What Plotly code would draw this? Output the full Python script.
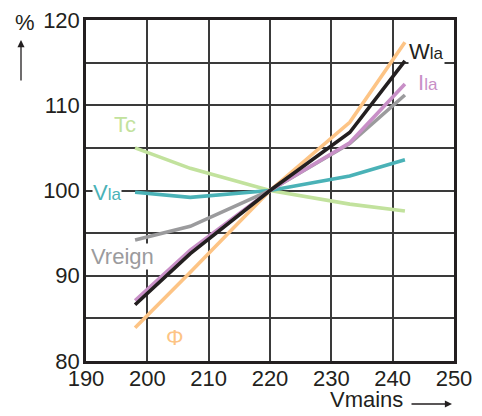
import plotly.graph_objects as go

vmains = [198, 207, 220, 233, 242]
tc = [105.0, 102.6, 100.0, 98.4, 97.6]
vla = [99.8, 99.2, 100.0, 101.7, 103.6]
vreign = [94.2, 95.8, 100.0, 105.5, 111.2]
phi = [83.9, 90.4, 100.0, 108.0, 117.4]
ila = [87.1, 93.0, 100.0, 105.6, 112.5]
wla = [86.6, 92.6, 100.0, 106.8, 115.2]

x_ticks = [190, 200, 210, 220, 230, 240, 250]
y_ticks = [80, 85, 90, 95, 100, 105, 110, 115, 120]
y_ticktext = ["80", "", "90", "", "100", "", "110", "", "120"]

FONT = "Liberation Sans, Arial, sans-serif"
series = [
    (tc, "#C2E29D"),
    (vla, "#4AB2B7"),
    (vreign, "#9B9B9D"),
    (phi, "#FDC485"),
    (ila, "#C88FC7"),
    (wla, "#231F20"),
]

fig = go.Figure()
for ys, col in series:
    fig.add_trace(go.Scatter(x=vmains, y=ys, mode="lines",
                             line=dict(color=col, width=3.6), showlegend=False,
                             hoverinfo="skip"))

def lab(text, x, y, color, bg=True):
    fig.add_annotation(text=text, x=x, y=y, xref="x", yref="y", showarrow=False,
                       font=dict(family=FONT, size=22, color=color),
                       bgcolor="white" if bg else "rgba(0,0,0,0)",
                       borderpad=0, xanchor="left", yanchor="middle")

small = "<span style='font-size:17px'>la</span>"
lab("W" + small, 242.5, 116.25, "#231F20")
lab("I" + small, 244.0, 112.7, "#C88FC7", bg=False)
lab("Tc", 194.4, 107.7, "#C2E29D", bg=False)
lab("V" + small, 191.0, 99.8, "#4AB2B7")
lab("Vreign", 190.65, 92.2, "#9B9B9D")
lab("Φ", 202.9, 82.8, "#FDC485", bg=False)

# axis titles
fig.add_annotation(text="%", x=(25 - 86) / 368, y=(361 - 22) / 341, xref="paper", yref="paper",
                   xanchor="center", yanchor="middle",
                   showarrow=False, font=dict(family=FONT, size=22, color="#231F20"))
fig.add_annotation(x=(21 - 86) / 368, y=(361 - 40) / 341, xref="paper", yref="paper",
                   ax=0, ay=42, showarrow=True, arrowhead=2, arrowsize=1.1, arrowwidth=1.3,
                   arrowcolor="#231F20", text="")
fig.add_annotation(text="Vmains", x=(366 - 86) / 368, y=(361 - 400) / 341, xref="paper", yref="paper",
                   xanchor="center", yanchor="middle",
                   showarrow=False, font=dict(family=FONT, size=22, color="#231F20"))
fig.add_annotation(x=(452 - 86) / 368, y=(361 - 404) / 341, xref="paper", yref="paper",
                   ax=-42, ay=0, showarrow=True, arrowhead=2, arrowsize=1.1, arrowwidth=1.3,
                   arrowcolor="#231F20", text="")

fig.update_layout(
    width=482, height=416,
    margin=dict(l=86, r=28, t=20, b=55, autoexpand=False),
    paper_bgcolor="white", plot_bgcolor="white",
    font=dict(family=FONT, size=22, color="#231F20"),
    xaxis=dict(range=[190, 250], tickvals=x_ticks, showgrid=True, gridcolor="#3a3a3a",
               gridwidth=1.5, zeroline=False, showline=True, linecolor="#231F20",
               linewidth=2.5, mirror=True, ticks="", ticklabelstandoff=-4,
               tickfont=dict(size=22), automargin=False),
    yaxis=dict(range=[80, 120], tickvals=y_ticks, ticktext=y_ticktext, showgrid=True,
               gridcolor="#3a3a3a", gridwidth=1.5, zeroline=False, showline=True,
               linecolor="#231F20", linewidth=2.5, mirror=True, ticks="",
               ticklabelstandoff=-1, tickfont=dict(size=22), automargin=False),
)

fig.write_html("out.html", config={"displayModeBar": False},
               post_script="document.body.style.margin='0';document.body.style.overflow='hidden';")
